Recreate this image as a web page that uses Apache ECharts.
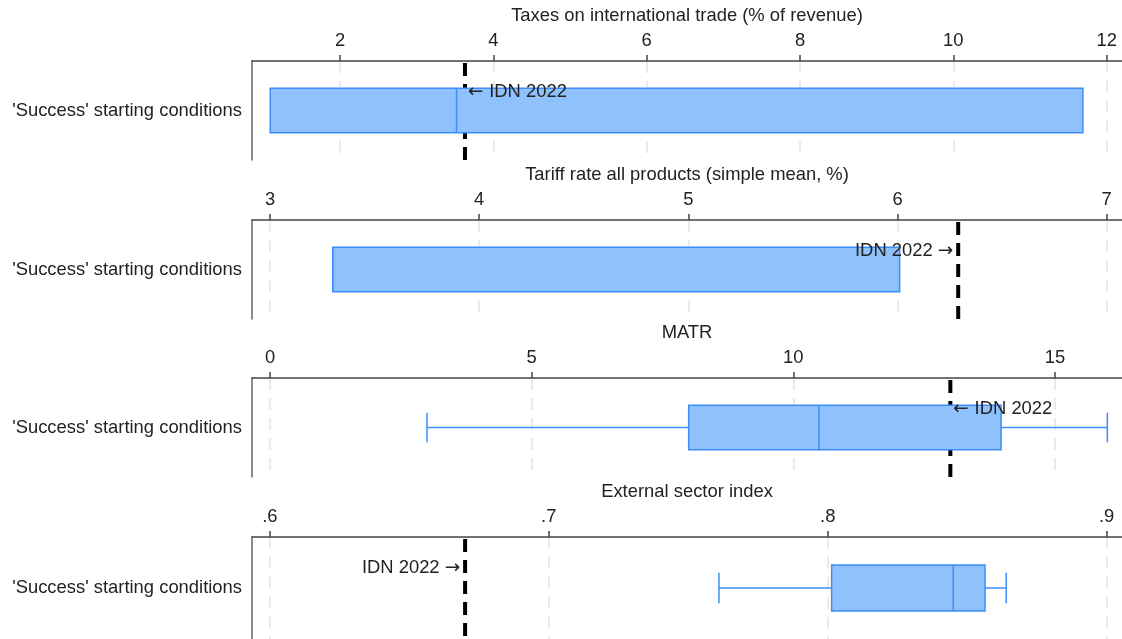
<!DOCTYPE html>
<html>
<head>
<meta charset="utf-8">
<script src="https://cdn.jsdelivr.net/npm/echarts@6/dist/echarts.min.js"></script>
<style>
  html, body { margin: 0; padding: 0; background: #fff; }
  #chart { width: 1122px; height: 639px; }
</style>
</head>
<body>
<div id="chart"></div>
<script>
// Starting-condition ranges for four trade indicators, with Indonesia 2022 marked.
const rowLabel = "'Success' starting conditions";
const panelTitles = [
  'Taxes on international trade (% of revenue)',
  'Tariff rate all products (simple mean, %)',
  'MATR',
  'External sector index'
];
const boxMin    = [1.09, 3.30, 3.00, 0.761];
const boxQ1     = [1.09, 3.30, 8.00, 0.8014];
const boxMedian = [3.52, 3.30, 10.49, 0.845];
const boxQ3     = [11.69, 6.01, 13.97, 0.8564];
const boxMax    = [11.69, 6.01, 16.00, 0.864];
const idn2022   = [3.63, 6.29, 13.0, 0.670];
const idnLabel  = ['{a|\u2190 }IDN 2022', 'IDN 2022 {a|\u2192}', '{a|\u2190 }IDN 2022', 'IDN 2022 {a|\u2192}'];
const idnSide   = ['right', 'left', 'right', 'left'];
const tickValues = [
  [2, 4, 6, 8, 10, 12],
  [3, 4, 5, 6, 7],
  [0, 5, 10, 15],
  [0.6, 0.7, 0.8, 0.9]
];
const axisMin = [0.852, 2.914, -0.344, 0.5936];
const axisMax = [12.2, 7.073, 16.28, 0.9055];

const FONT = '"Liberation Sans", Arial, Helvetica, sans-serif';
const FS = 18.4;
const TEXT = '#222';
const AXIS = '#444';
const BOX_FILL = '#8fc1fc';
const BOX_EDGE = '#3d8ef8';

const panels = [
  { top: 61, height: 99, titleY: 16 },
  { top: 220, height: 99, titleY: 175 },
  { top: 378, height: 99, titleY: 333 },
  { top: 537, height: 102, titleY: 492 }
];
const LEFT = 252;

function fmtTick(v) {
  const s = String(+(+v).toFixed(2));
  return s.replace(/^0\./, '.');
}

const grid = [], xAxis = [], yAxis = [], series = [], graphic = [];

panels.forEach((p, i) => {
  grid.push({ left: LEFT, right: 0, top: p.top, height: p.height, containLabel: false });
  xAxis.push({
    type: 'value',
    gridIndex: i,
    position: 'top',
    min: axisMin[i],
    max: axisMax[i],
    axisLine: { show: true, onZero: false, lineStyle: { color: AXIS, width: 1.5 } },
    axisTick: { show: true, length: 6, lineStyle: { color: AXIS, width: 1.5 }, customValues: tickValues[i] },
    axisLabel: {
      customValues: tickValues[i],
      formatter: fmtTick,
      fontSize: FS, fontFamily: FONT, color: TEXT, margin: 11
    },
    splitLine: { show: true, lineStyle: { color: '#e4e4e4', width: 1.5, type: [12, 8] } }
  });
  yAxis.push({
    type: 'category',
    gridIndex: i,
    data: [rowLabel],
    axisLine: { show: true, onZero: false, lineStyle: { color: '#666', width: 1.5 } },
    axisTick: { show: false },
    axisLabel: { fontSize: FS, fontFamily: FONT, color: TEXT, margin: 10, padding: [3, 0, 0, 0] },
    splitLine: { show: false }
  });
  graphic.push({
    type: 'text',
    x: LEFT + (1122 - LEFT) / 2,
    y: p.titleY,
    style: {
      text: panelTitles[i],
      fontSize: FS,
      fontFamily: FONT,
      fill: TEXT,
      textAlign: 'center',
      textVerticalAlign: 'middle'
    }
  });
  series.push({
    type: 'custom',
    xAxisIndex: i,
    yAxisIndex: i,
    clip: false,
    silent: true,
    encode: { x: [0, 1, 2, 3, 4, 5], y: 6 },
    data: [[boxMin[i], boxQ1[i], boxMedian[i], boxQ3[i], boxMax[i], idn2022[i], 0]],
    renderItem: function (params, api) {
      const cs = params.coordSys;
      const cy = api.coord([api.value(0), 0])[1];
      const band = api.size([0, 1])[1];
      const x = [0, 1, 2, 3, 4, 5].map(k => api.coord([api.value(k), 0])[0]);
      const boxH = band * 0.45;
      const capH = band * 0.30;
      const children = [];
      // Indonesia 2022 reference line (behind the box)
      children.push({
        type: 'line', z2: 0,
        shape: { x1: x[5], y1: cs.y + 2, x2: x[5], y2: cs.y + cs.height },
        style: { stroke: '#000', lineWidth: 4, lineDash: [13, 8] }
      });
      // whiskers
      const wStyle = { stroke: BOX_EDGE, lineWidth: 1.5 };
      if (x[0] < x[1]) {
        children.push({ type: 'line', z2: 5, shape: { x1: x[0], y1: cy, x2: x[1], y2: cy }, style: wStyle });
        children.push({ type: 'line', z2: 5, shape: { x1: x[0], y1: cy - capH / 2, x2: x[0], y2: cy + capH / 2 }, style: wStyle });
      }
      if (x[4] > x[3]) {
        children.push({ type: 'line', z2: 5, shape: { x1: x[3], y1: cy, x2: x[4], y2: cy }, style: wStyle });
        children.push({ type: 'line', z2: 5, shape: { x1: x[4], y1: cy - capH / 2, x2: x[4], y2: cy + capH / 2 }, style: wStyle });
      }
      // interquartile box and median
      children.push({
        type: 'rect', z2: 10,
        shape: { x: x[1], y: cy - boxH / 2, width: x[3] - x[1], height: boxH },
        style: { fill: BOX_FILL, stroke: BOX_EDGE, lineWidth: 1.5 }
      });
      children.push({
        type: 'line', z2: 11,
        shape: { x1: x[2], y1: cy - boxH / 2, x2: x[2], y2: cy + boxH / 2 },
        style: { stroke: BOX_EDGE, lineWidth: 1.5 }
      });
      // marker label
      const right = idnSide[params.seriesIndex] === 'right';
      children.push({
        type: 'text', z2: 20,
        x: right ? x[5] + 3 : x[5] - 5,
        y: cs.y + 31,
        style: {
          text: idnLabel[params.seriesIndex],
          fontSize: FS,
          fontFamily: FONT,
          fill: TEXT,
          textAlign: right ? 'left' : 'right',
          textVerticalAlign: 'middle',
          rich: {
            a: { fontSize: FS, fontFamily: '"DejaVu Sans", sans-serif', fill: TEXT }
          }
        }
      });
      return { type: 'group', children: children };
    }
  });
});

const chart = echarts.init(document.getElementById('chart'), null, { renderer: 'canvas' });
chart.setOption({
  animation: false,
  backgroundColor: '#fff',
  grid: grid,
  xAxis: xAxis,
  yAxis: yAxis,
  series: series,
  graphic: graphic
});
</script>
</body>
</html>
